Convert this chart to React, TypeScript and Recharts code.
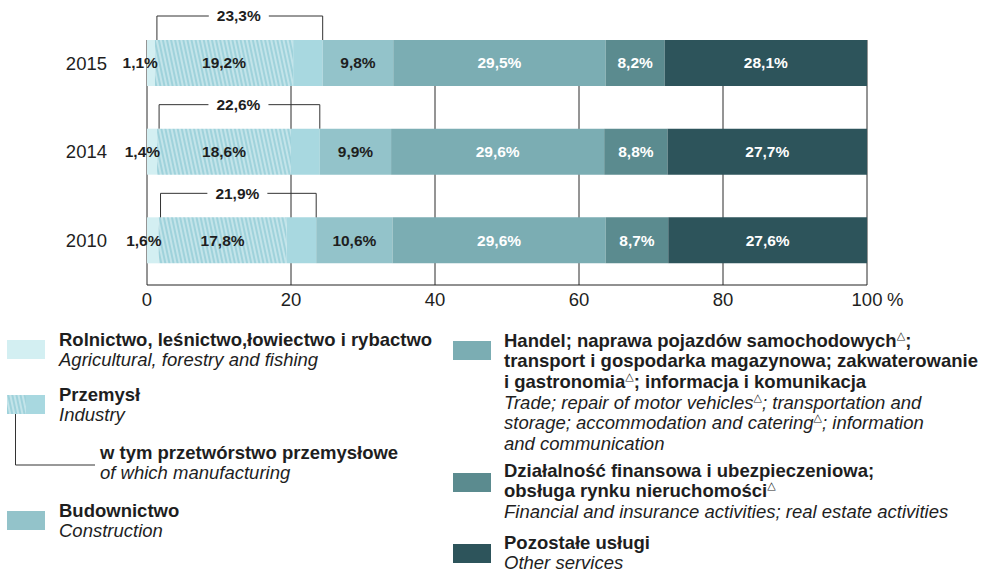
import { BarChart, Bar, XAxis, YAxis, CartesianGrid, LabelList } from "recharts";

const years = ["2015", "2014", "2010"];
const agriculture = [1.1, 1.4, 1.6];
const industry = [23.3, 22.6, 21.9];
const manufacturing = [19.2, 18.6, 17.8];
const construction = [9.8, 9.9, 10.6];
const trade = [29.5, 29.6, 29.6];
const finance = [8.2, 8.8, 8.7];
const otherServices = [28.1, 27.7, 27.6];
const xTicks = [0, 20, 40, 60, 80, 100];

const data = years.map((year, i) => ({
  year,
  agriculture: agriculture[i],
  manufacturing: manufacturing[i],
  industryRest: +(industry[i] - manufacturing[i]).toFixed(1),
  construction: construction[i],
  trade: trade[i],
  finance: finance[i],
  otherServices: otherServices[i],
}));

const FONT = '"Liberation Sans", Arial, sans-serif';
const TEXT = "#1e1e1e";
const LABEL_SIZE = 15.5;

const C = {
  agri: "#d3eff2",
  mfgBase: "#9fd2db",
  mfgStripe: "#dcf1f4",
  industry: "#a8d8e0",
  construction: "#93c3ca",
  trade: "#7badb3",
  finance: "#5b8b8f",
  other: "#2d545b",
};

const fmt = (v: number) => v.toFixed(1).replace(".", ",") + "%";

const centerLabel = (color: string) => (props: any) => {
  const { x, y, width, height, value } = props;
  return (
    <text
      x={x + width / 2}
      y={y + height / 2}
      dy="0.35em"
      textAnchor="middle"
      fill={color}
      fontSize={LABEL_SIZE}
      fontWeight="bold"
      fontFamily={FONT}
    >
      {fmt(value)}
    </text>
  );
};

const agriLabel = (props: any) => {
  const { x, y, width, height, value } = props;
  return (
    <text
      x={x + width + 3}
      y={y + height / 2}
      dy="0.35em"
      textAnchor="end"
      fill={TEXT}
      fontSize={LABEL_SIZE}
      fontWeight="bold"
      fontFamily={FONT}
    >
      {fmt(value)}
    </text>
  );
};

// bracket over the whole industry block, drawn from the manufacturing segment
const industryBracket = (props: any) => {
  const { x, y, width, index } = props;
  const end = x + (width * industry[index]) / manufacturing[index];
  const top = y - 24;
  const mid = (x + end) / 2;
  return (
    <g>
      <polyline
        points={`${x + 2},${y} ${x + 2},${top} ${end},${top} ${end},${y}`}
        fill="none"
        stroke="#333"
        strokeWidth={1}
      />
      <rect x={mid - 30} y={top - 9} width={60} height={18} fill="#fff" />
      <text
        x={mid}
        y={top}
        dy="0.35em"
        textAnchor="middle"
        fill={TEXT}
        fontSize={LABEL_SIZE}
        fontWeight="bold"
        fontFamily={FONT}
      >
        {fmt(industry[index])}
      </text>
    </g>
  );
};

const XTick = (props: any) => {
  const { x, y, payload } = props;
  return (
    <g>
      <text x={x} y={y + 15} dy="0.35em" textAnchor="middle" fill={TEXT} fontSize={18.5} fontFamily={FONT}>
        {payload.value}
      </text>
      {payload.value === 100 && (
        <text x={x + 20} y={y + 15} dy="0.35em" textAnchor="start" fill={TEXT} fontSize={18.5} fontFamily={FONT}>
          %
        </text>
      )}
    </g>
  );
};

const YTick = (props: any) => {
  const { x, y, payload } = props;
  return (
    <text x={x - 40} y={y} dy="0.35em" textAnchor="end" fill={TEXT} fontSize={18.5} fontFamily={FONT}>
      {payload.value}
    </text>
  );
};

const Tri = () => (
  <span
    style={{
      fontSize: 11,
      lineHeight: 0,
      position: "relative",
      top: -8,
      fontWeight: "normal",
      fontStyle: "normal",
      fontFamily: "DejaVu Sans",
    }}
  >
    △
  </span>
);

const Swatch = ({ left, top, color }: { left: number; top: number; color: string }) => (
  <div style={{ position: "absolute", left, top, width: 38, height: 19, background: color }} />
);

const LH = 20.7;

const Line = ({ children, style }: { children: any; style: any }) => (
  <div style={{ height: LH, lineHeight: `${LH}px`, overflow: "visible", ...style }}>{children}</div>
);

const Block = ({ left, top, bold, italic }: { left: number; top: number; bold: any[]; italic: any[] }) => (
  <div style={{ position: "absolute", left, top: top - LH / 2, fontSize: 18.5, color: TEXT, whiteSpace: "nowrap" }}>
    {bold.map((l, i) => (
      <Line key={"b" + i} style={{ fontWeight: "bold" }}>{l}</Line>
    ))}
    {italic.map((l, i) => (
      <Line key={"i" + i} style={{ fontStyle: "italic" }}>{l}</Line>
    ))}
  </div>
);

export default function App() {
  return (
    <div style={{ position: "absolute", left: 0, top: 0, width: 983, height: 574, background: "#fff", fontFamily: FONT, overflow: "hidden" }}>
      <BarChart
        width={983}
        height={310}
        layout="vertical"
        data={data}
        margin={{ top: 19, right: 116, bottom: 0, left: 0 }}
      >
        <defs>
          <pattern id="hatch" patternUnits="userSpaceOnUse" width={4} height={12} patternTransform="rotate(-12)">
            <rect width={4} height={12} fill={C.mfgBase} />
            <line x1={1} y1={0} x2={1} y2={12} stroke={C.mfgStripe} strokeWidth={1.2} />
          </pattern>
        </defs>
        <CartesianGrid vertical horizontal={false} y={40} height={245} stroke="#2a2a2a" strokeWidth={1} />
        <XAxis
          type="number"
          domain={[0, 100]}
          ticks={xTicks}
          tick={<XTick />}
          tickLine={false}
          tickSize={0}
          tickMargin={0}
          axisLine={{ stroke: "#222" }}
          height={25}
        />
        <YAxis
          type="category"
          dataKey="year"
          width={147}
          tick={<YTick />}
          tickLine={false}
          tickSize={0}
          tickMargin={0}
          axisLine={false}
        />
        <Bar dataKey="agriculture" stackId="a" fill={C.agri} barSize={46} isAnimationActive={false}>
          <LabelList dataKey="agriculture" content={agriLabel} />
        </Bar>
        <Bar dataKey="manufacturing" stackId="a" fill="url(#hatch)" barSize={46} isAnimationActive={false}>
          <LabelList dataKey="manufacturing" content={centerLabel(TEXT)} />
          <LabelList dataKey="manufacturing" content={industryBracket} />
        </Bar>
        <Bar dataKey="industryRest" stackId="a" fill={C.industry} barSize={46} isAnimationActive={false} />
        <Bar dataKey="construction" stackId="a" fill={C.construction} barSize={46} isAnimationActive={false}>
          <LabelList dataKey="construction" content={centerLabel(TEXT)} />
        </Bar>
        <Bar dataKey="trade" stackId="a" fill={C.trade} barSize={46} isAnimationActive={false}>
          <LabelList dataKey="trade" content={centerLabel("#fff")} />
        </Bar>
        <Bar dataKey="finance" stackId="a" fill={C.finance} barSize={46} isAnimationActive={false}>
          <LabelList dataKey="finance" content={centerLabel("#fff")} />
        </Bar>
        <Bar dataKey="otherServices" stackId="a" fill={C.other} barSize={46} isAnimationActive={false}>
          <LabelList dataKey="otherServices" content={centerLabel("#fff")} />
        </Bar>
      </BarChart>

      {/* legend, left column */}
      <Swatch left={7} top={340} color={C.agri} />
      <Block left={59} top={340} bold={["Rolnictwo, leśnictwo,łowiectwo i rybactwo"]} italic={["Agricultural, forestry and fishing"]} />

      <svg style={{ position: "absolute", left: 0, top: 390 }} width={100} height={80}>
        <defs>
          <pattern id="hatchLeg" patternUnits="userSpaceOnUse" width={4} height={12} patternTransform="rotate(-12)">
            <rect width={4} height={12} fill={C.mfgBase} />
            <line x1={1} y1={0} x2={1} y2={12} stroke={C.mfgStripe} strokeWidth={1.2} />
          </pattern>
        </defs>
        <rect x={7} y={5} width={19} height={19} fill="url(#hatchLeg)" />
        <rect x={26} y={5} width={19} height={19} fill={C.industry} />
        <polyline points="15.5,24 15.5,75 95,75" fill="none" stroke="#333" strokeWidth={1} />
      </svg>
      <Block left={59} top={395} bold={["Przemysł"]} italic={["Industry"]} />
      <Block left={100} top={453} bold={["w tym przetwórstwo przemysłowe"]} italic={["of which manufacturing"]} />

      <Swatch left={7} top={511} color={C.construction} />
      <Block left={59} top={511} bold={["Budownictwo"]} italic={["Construction"]} />

      {/* legend, right column */}
      <Swatch left={453} top={341} color={C.trade} />
      <Block
        left={504}
        top={341}
        bold={[
          <>Handel; naprawa pojazdów samochodowych<Tri />;</>,
          "transport i gospodarka magazynowa; zakwaterowanie",
          <>i gastronomia<Tri />; informacja i komunikacja</>,
        ]}
        italic={[
          <>Trade; repair of motor vehicles<Tri />; transportation and</>,
          <>storage; accommodation and catering<Tri />; information</>,
          "and communication",
        ]}
      />

      <Swatch left={453} top={473} color={C.finance} />
      <Block
        left={504}
        top={471}
        bold={["Działalność finansowa i ubezpieczeniowa;", <>obsługa rynku nieruchomości<Tri /></>]}
        italic={["Financial and insurance activities; real estate activities"]}
      />

      <Swatch left={453} top={544} color={C.other} />
      <Block left={504} top={543} bold={["Pozostałe usługi"]} italic={["Other services"]} />
    </div>
  );
}
